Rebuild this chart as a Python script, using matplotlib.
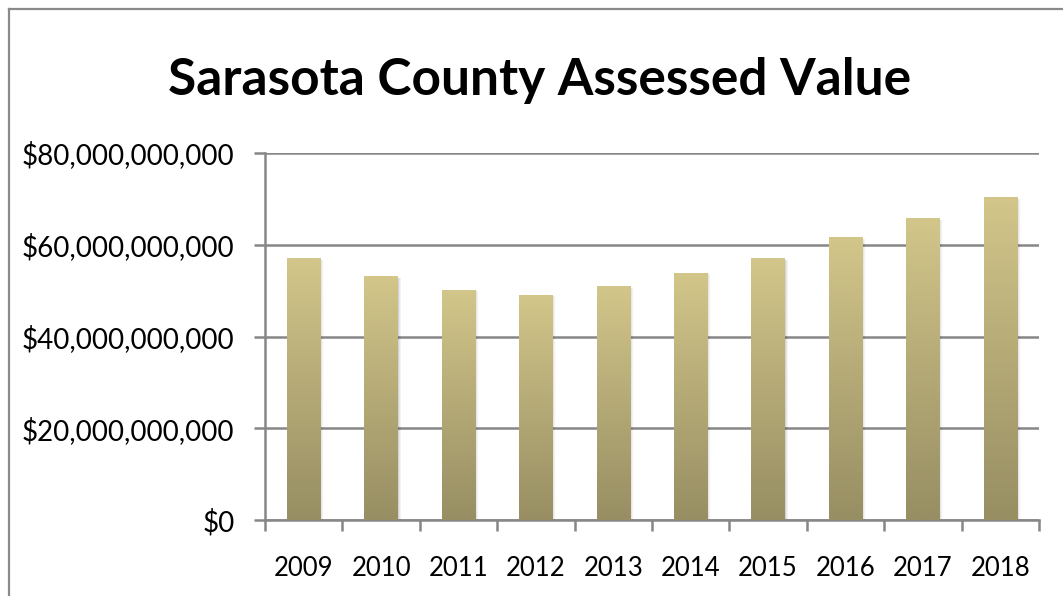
import numpy as np
import matplotlib
matplotlib.use("Agg")
import matplotlib.pyplot as plt
from matplotlib.colors import LinearSegmentedColormap
from matplotlib.lines import Line2D
from matplotlib.ticker import FuncFormatter

# data
years = ["2009", "2010", "2011", "2012", "2013", "2014", "2015", "2016", "2017", "2018"]
assessed = [56.9e9, 53.0e9, 50.1e9, 49.0e9, 50.8e9, 53.8e9, 56.9e9, 61.5e9, 65.8e9, 70.4e9]
y_ticks = [0, 20e9, 40e9, 60e9, 80e9]

W, H = 1063, 596
plt.rcParams["font.family"] = ["Lato", "DejaVu Sans"]

fig = plt.figure(figsize=(W / 100, H / 100), dpi=100)
ax = fig.add_axes([265 / W, 1 - 520 / H, (1039 - 265) / W, (520 - 153) / H])

grid_col = "#878787"
bar_w = 0.43
grad = LinearSegmentedColormap.from_list("tan", ["#978E63", "#D2C68A"])
g = np.linspace(0, 1, 256).reshape(-1, 1)

x = np.arange(len(years))
bars = ax.bar(x, assessed, width=bar_w, color="none", zorder=3)
for b in bars:
    x0, w, h = b.get_x(), b.get_width(), b.get_height()
    # soft shadow to the right
    for k, a in enumerate([0.08, 0.05, 0.03, 0.015]):
        off = 0.012 * (k + 1)
        ax.add_patch(plt.Rectangle((x0 + off, 0), w, h * 0.995, color="#000000",
                                   alpha=a, lw=0, zorder=2))
    ax.imshow(g, cmap=grad, origin="lower", aspect="auto",
              extent=[x0, x0 + w, 0, h], zorder=3)

ax.set_xlim(-0.5, len(years) - 0.5)
ax.set_ylim(0, 80e9)
ax.set_yticks(y_ticks)
ax.yaxis.set_major_formatter(FuncFormatter(lambda v, p: "${:,.0f}".format(v)))
ax.grid(axis="y", color=grid_col, lw=1.8, zorder=1)
ax.set_axisbelow(True)

ax.set_xticks(x)
ax.set_xticklabels(years)
ax.set_xticks(np.arange(-0.5, len(years)), minor=True)
ax.tick_params(axis="x", which="major", length=0, pad=26, labelsize=18.5)
ax.tick_params(axis="x", which="minor", length=8, width=1.8, color=grid_col, direction="out")
ax.tick_params(axis="y", length=8, width=1.8, color=grid_col, pad=14, labelsize=20)

for s in ["top", "right"]:
    ax.spines[s].set_visible(False)
for s in ["left", "bottom"]:
    ax.spines[s].set_color(grid_col)
    ax.spines[s].set_linewidth(1.8)

fig.text(540 / W, 1 - 95 / H, "Sarasota County Assessed Value", ha="center",
         va="baseline", fontsize=37, fontweight="bold")

# outer chart frame (left and top edges visible)
fig.add_artist(Line2D([9 / W, 9 / W], [0, 1 - 9 / H], transform=fig.transFigure,
                      color="#8a8a8a", lw=1.6))
fig.add_artist(Line2D([9 / W, 1], [1 - 9 / H, 1 - 9 / H], transform=fig.transFigure,
                      color="#8a8a8a", lw=1.6))

fig.savefig("out.png", dpi=100)
